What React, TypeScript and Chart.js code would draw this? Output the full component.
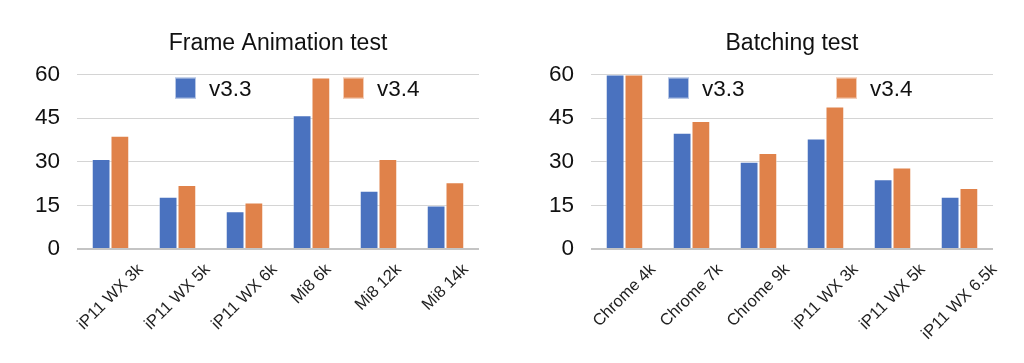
import React, { useEffect, useRef } from "react";
import { Chart, registerables } from "chart.js";

Chart.register(...registerables);

const seriesLabels = ["v3.3", "v3.4"];
const seriesColors = ["#4a72bf", "#e0824a"];
const yTicks = [0, 15, 30, 45, 60];

const frameTitle = "Frame Animation test";
const frameCategories = ["iP11 WX 3k", "iP11 WX 5k", "iP11 WX 6k", "Mi8 6k", "Mi8 12k", "Mi8 14k"];
const frameV33 = [31, 18, 13, 46, 20, 15];
const frameV34 = [39, 22, 16, 59, 31, 23];

const batchTitle = "Batching test";
const batchCategories = ["Chrome 4k", "Chrome 7k", "Chrome 9k", "iP11 WX 3k", "iP11 WX 5k", "iP11 WX 6.5k"];
const batchV33 = [60, 40, 30, 38, 24, 18];
const batchV34 = [60, 44, 33, 49, 28, 21];

const FONT = "'Liberation Sans', Arial, Helvetica, sans-serif";

type Cfg = {
  title: string;
  categories: string[];
  a: number[];
  b: number[];
  axisWidth: number;
  rightPad: number;
  legendOffset: number;
};

const overlayPlugin = (legendOffset: number) => ({
  id: "overlay",
  afterDraw(chart: any) {
    const ctx = chart.ctx;
    const area = chart.chartArea;
    const xs = chart.scales.x;
    ctx.save();
    // legend inside the plot area
    chart.data.datasets.forEach((ds: any, i: number) => {
      const bx = area.left + legendOffset + i * 168;
      const by = area.top + 3;
      ctx.fillStyle = ds.backgroundColor;
      ctx.fillRect(bx, by, 21, 21);
      ctx.strokeStyle = "rgba(255,255,255,0.6)";
      ctx.lineWidth = 1;
      ctx.strokeRect(bx + 0.5, by + 0.5, 20, 20);
      ctx.fillStyle = "#111";
      ctx.font = `22.5px ${FONT}`;
      ctx.textAlign = "left";
      ctx.textBaseline = "middle";
      ctx.fillText(ds.label, bx + 34, by + 12);
    });
    // rotated x labels centred on their category
    ctx.font = `16.5px ${FONT}`;
    ctx.fillStyle = "#222";
    const labels: string[] = chart.data.labels;
    labels.forEach((lab, i) => {
      const cx = xs.getPixelForTick(i);
      const w = ctx.measureText(lab).width;
      const d = w / (2 * Math.SQRT2);
      ctx.save();
      ctx.translate(cx + d, area.bottom + 18);
      ctx.rotate(-Math.PI / 4);
      ctx.textAlign = "right";
      ctx.textBaseline = "middle";
      ctx.fillText(lab, 0, 0);
      ctx.restore();
    });
    ctx.restore();
  },
});

function BarPanel({ cfg }: { cfg: Cfg }) {
  const ref = useRef<HTMLCanvasElement>(null);
  useEffect(() => {
    if (!ref.current) return;
    const mk = (label: string, data: number[], color: string) => ({
      label,
      data,
      backgroundColor: color,
      borderColor: "rgba(255,255,255,0.5)",
      borderWidth: 1,
      borderSkipped: "bottom",
      categoryPercentage: 0.56,
      barPercentage: 1,
    });
    const chart = new Chart(ref.current, {
      type: "bar",
      data: {
        labels: cfg.categories,
        datasets: [
          mk(seriesLabels[0], cfg.a, seriesColors[0]),
          mk(seriesLabels[1], cfg.b, seriesColors[1]),
        ],
      },
      options: {
        responsive: false,
        animation: false,
        devicePixelRatio: 1,
        layout: { padding: { left: 0, right: cfg.rightPad, top: 0, bottom: 114 } },
        plugins: {
          legend: { display: false },
          tooltip: { enabled: false },
          title: {
            display: true,
            fullSize: false,
            text: cfg.title,
            color: "#111",
            font: { family: FONT, size: 23, weight: "normal" },
            padding: { top: 30, bottom: 17 },
          },
        },
        scales: {
          x: {
            grid: { display: false },
            border: { display: false },
            ticks: { display: false },
            afterFit: (s: any) => {
              s.height = 0;
            },
          },
          y: {
            min: 0,
            max: 60,
            afterBuildTicks: (s: any) => {
              s.ticks = yTicks.map((v) => ({ value: v }));
            },
            afterFit: (s: any) => {
              s.width = cfg.axisWidth;
            },
            border: { display: false },
            grid: {
              drawTicks: false,
              color: (c: any) => (c.tick && c.tick.value === 0 ? "#c4c4c4" : "#d4d4d4"),
              lineWidth: (c: any) => (c.tick && c.tick.value === 0 ? 2 : 1),
            },
            ticks: {
              padding: 17,
              color: "#111",
              font: { family: FONT, size: 22.5 },
            },
          },
        },
      },
      plugins: [overlayPlugin(cfg.legendOffset)],
    } as any);
    return () => chart.destroy();
  }, [cfg]);
  return <canvas ref={ref} width={512} height={363} style={{ display: "block", width: 512, height: 363 }} />;
}

const leftCfg: Cfg = {
  title: frameTitle,
  categories: frameCategories,
  a: frameV33,
  b: frameV34,
  axisWidth: 77,
  rightPad: 33,
  legendOffset: 98,
};

const rightCfg: Cfg = {
  title: batchTitle,
  categories: batchCategories,
  a: batchV33,
  b: batchV34,
  axisWidth: 79,
  rightPad: 31,
  legendOffset: 77,
};

export default function App() {
  return (
    <div
      style={{
        position: "absolute",
        left: 0,
        top: 0,
        width: 1024,
        height: 363,
        background: "#fff",
        display: "flex",
        overflow: "hidden",
      }}
    >
      <BarPanel cfg={leftCfg} />
      <BarPanel cfg={rightCfg} />
    </div>
  );
}
